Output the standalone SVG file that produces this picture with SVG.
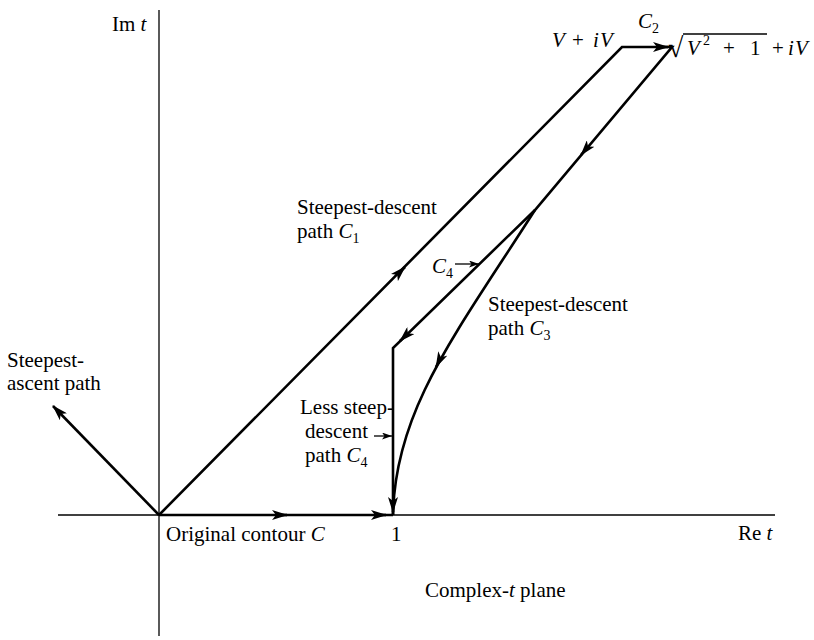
<svg xmlns="http://www.w3.org/2000/svg" width="814" height="640" viewBox="0 0 814 640">
<style>
text{font-family:"Liberation Serif","Times New Roman",serif;font-size:21px;fill:#000}
.it{font-style:italic}
.sub{font-size:14px;font-style:normal}
.ax{stroke:#000;stroke-width:1.3;fill:none}
.p{stroke:#000;stroke-width:2.6;fill:none;stroke-linejoin:miter}
.a{stroke:#000;stroke-width:2.6;fill:none}
.s{stroke:#000;stroke-width:1.3;fill:none}
</style>
<defs>
<marker id="ah" markerUnits="userSpaceOnUse" viewBox="0 0 16 10" refX="15" refY="5" markerWidth="16" markerHeight="10" orient="auto">
<path d="M0,0 L16,5 L0,10 L4,5 z" fill="#000"/>
</marker>
<marker id="sh" markerUnits="userSpaceOnUse" viewBox="0 0 10 7" refX="10" refY="3.5" markerWidth="10" markerHeight="7" orient="auto">
<path d="M0,0 L10,3.5 L0,7 L2.5,3.5 z" fill="#000"/>
</marker>
</defs>
<rect width="814" height="640" fill="#fff"/>
<g id="axes">
<line class="ax" x1="58" y1="515" x2="775" y2="515"/>
<line class="ax" x1="159" y1="10" x2="159" y2="636"/>
</g>
<g id="connectors">
<path class="p" d="M159,515 L622,47 L672,47 L535,210 L393,348 L393,515"/>
<path class="p" d="M535,210 C455,335 395,410 393,515"/>
<line class="p" x1="159" y1="515" x2="393" y2="515"/>
<line class="a" x1="159" y1="515" x2="53" y2="406" marker-end="url(#ah)"/>
<line class="a" x1="398" y1="274" x2="405" y2="267" marker-end="url(#ah)"/>
<line class="a" x1="660" y1="47" x2="668" y2="47" marker-end="url(#ah)"/>
<line class="a" x1="586.1" y1="148.9" x2="581" y2="155" marker-end="url(#ah)"/>
<line class="a" x1="405.7" y1="335.4" x2="400" y2="341" marker-end="url(#ah)"/>
<line class="a" x1="393" y1="504" x2="393" y2="512" marker-end="url(#ah)"/>
<line class="a" x1="439.6" y1="359.8" x2="436" y2="367" marker-end="url(#ah)"/>
<line class="a" x1="279" y1="515" x2="287" y2="515" marker-end="url(#ah)"/>
<line class="a" x1="378" y1="515" x2="386" y2="515" marker-end="url(#ah)"/>
<line class="s" x1="455" y1="264" x2="479" y2="264" marker-end="url(#sh)"/>
<line class="s" x1="374" y1="436" x2="392" y2="436" marker-end="url(#sh)"/>
<line class="s" x1="683" y1="34" x2="767" y2="34"/>
</g>
<g id="label-im"><text x="112" y="31">Im <tspan class="it">t</tspan></text></g>
<g id="label-c2"><text x="638" y="28"><tspan class="it">C</tspan><tspan class="sub" dy="5">2</tspan></text></g>
<g id="label-v"><text y="47"><tspan class="it" x="552">V</tspan><tspan x="572">+</tspan><tspan class="it" x="593">i</tspan><tspan class="it" x="600">V</tspan></text></g>
<g id="label-sqrt"><text x="668" y="57" style="font-size:28px">√</text><text y="55"><tspan class="it" x="687">V</tspan><tspan class="sub" x="703" dy="-10">2</tspan><tspan x="723" dy="10">+</tspan><tspan x="750">1</tspan><tspan x="772">+</tspan><tspan class="it" x="788">i</tspan><tspan class="it" x="795">V</tspan></text></g>
<g id="label-c1"><text x="297" y="214">Steepest-descent</text><text x="297" y="238">path <tspan class="it">C</tspan><tspan class="sub" dy="5">1</tspan></text></g>
<g id="label-c4a"><text x="432" y="273"><tspan class="it">C</tspan><tspan class="sub" dy="5">4</tspan></text></g>
<g id="label-c3"><text x="488" y="311">Steepest-descent</text><text x="488" y="335">path <tspan class="it">C</tspan><tspan class="sub" dy="5">3</tspan></text></g>
<g id="label-ascent"><text x="7" y="367">Steepest-</text><text x="7" y="390">ascent path</text></g>
<g id="label-less"><text x="300" y="414">Less steep-</text><text x="305" y="438">descent</text><text x="305" y="462">path <tspan class="it">C</tspan><tspan class="sub" dy="5">4</tspan></text></g>
<g id="label-c"><text x="166" y="541">Original contour <tspan class="it">C</tspan></text></g>
<g id="label-1"><text x="391" y="541">1</text></g>
<g id="label-re"><text x="738" y="540">Re <tspan class="it">t</tspan></text></g>
<g id="label-plane"><text x="425" y="597">Complex-<tspan class="it">t</tspan> plane</text></g>
</svg>
